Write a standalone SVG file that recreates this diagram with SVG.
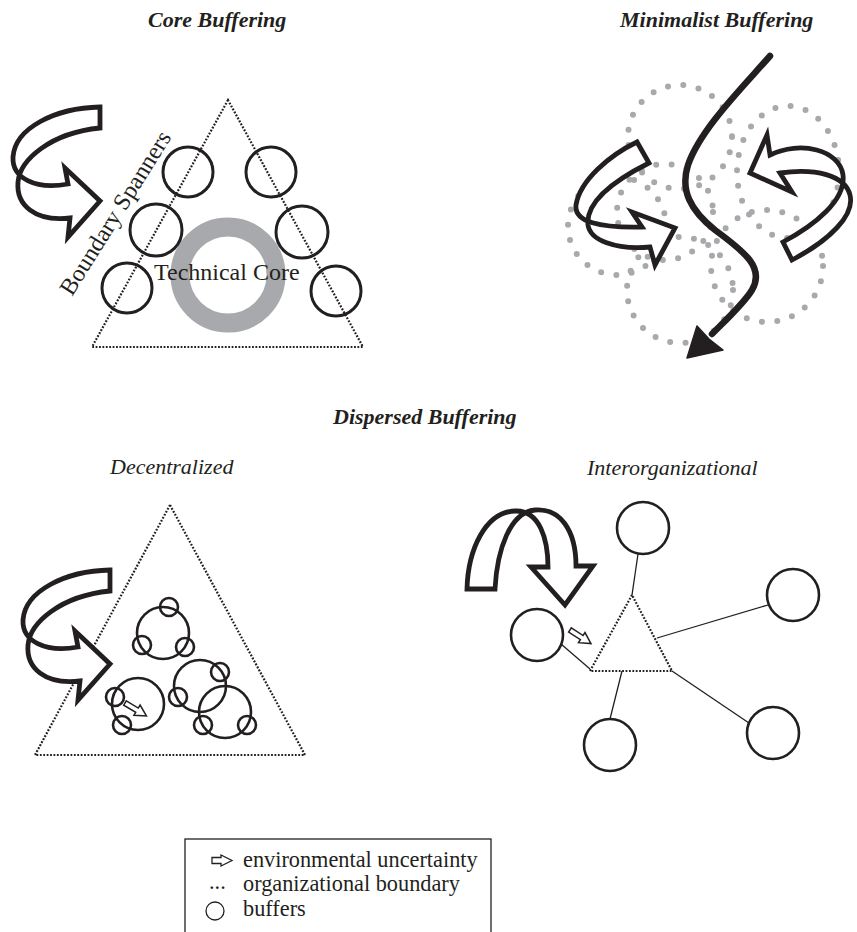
<svg xmlns="http://www.w3.org/2000/svg" width="857" height="932" viewBox="0 0 857 932">
<defs>
<style>
.t{font-family:"Liberation Serif","Times New Roman",serif;fill:#231f20}
.title{font-size:22px;font-weight:bold;font-style:italic}
.sub{font-size:22px;font-style:italic}
.lbl{font-size:24px}
.leg{font-size:22.3px}
.tri{fill:none;stroke:#231f20;stroke-width:2.2;stroke-dasharray:1.8 1.6}
.buf{fill:none;stroke:#231f20;stroke-width:3}
.bufs{fill:none;stroke:#231f20;stroke-width:2.6}
.big{fill:#fff;stroke:#231f20;stroke-width:4.8;stroke-linejoin:miter}
.dots{fill:none;stroke:#a7a9ac;stroke-width:6;stroke-linecap:round;stroke-dasharray:0 15.5}
.link{stroke:#231f20;stroke-width:1.3;fill:none}
.sm{fill:#fff;stroke:#231f20;stroke-width:1.5}
</style>
<path id="coreArrow" d="M100,107 C55,108 15,128 13,157 C12,178 35,190 68,184 L65,168 L100,201 L68,237 L70,218 C35,222 16,205 18,182 C20,160 50,133 100,128 Z"/>
<polygon id="smallArrow" points="0,-2.5 14,-2.5 14,-6 25,0 14,6 14,2.5 0,2.5"/>
</defs>
<rect width="857" height="932" fill="#fff"/>

<!-- Titles -->
<text class="t title" x="148" y="27">Core Buffering</text>
<text class="t title" x="620" y="27">Minimalist Buffering</text>
<text class="t title" x="333" y="424">Dispersed Buffering</text>
<text class="t sub" x="110" y="474">Decentralized</text>
<text class="t sub" x="587" y="475">Interorganizational</text>

<!-- Core Buffering -->
<g id="core-boundary"><polygon class="tri" points="228,100 92,347 363,347"/></g>
<g id="technical-core">
<circle cx="228" cy="275" r="48" fill="none" stroke="#a7a9ac" stroke-width="19"/>
<text class="t lbl" x="154" y="280">Technical Core</text>
</g>
<g id="core-buffer-1"><circle class="buf" cx="188" cy="172" r="25"/></g>
<g id="core-buffer-2"><circle class="buf" cx="271" cy="172" r="25"/></g>
<g id="core-buffer-3"><circle class="buf" cx="156" cy="230" r="26"/></g>
<g id="core-buffer-4"><circle class="buf" cx="302" cy="232" r="26"/></g>
<g id="core-buffer-5"><circle class="buf" cx="127" cy="288" r="25"/></g>
<g id="core-buffer-6"><circle class="buf" cx="336" cy="291" r="25"/></g>
<text class="t lbl" font-size="24.5" transform="translate(72,297) rotate(-58)">Boundary Spanners</text>
<g id="core-uncertainty"><use href="#coreArrow" class="big"/></g>

<!-- Minimalist Buffering -->
<g id="minimal-buffers">
<circle class="dots" cx="680" cy="137" r="52"/>
<ellipse class="dots" cx="788" cy="172" rx="51" ry="66"/>
<circle class="dots" cx="617" cy="226" r="49"/>
<circle class="dots" cx="665" cy="212" r="48"/>
<circle class="dots" cx="680" cy="290" r="53"/>
<circle class="dots" cx="767" cy="266" r="56"/>
</g>
<g id="minimal-flow">
<path d="M770,56 C740,90 700,130 688,165 C680,190 690,210 715,230 C745,252 765,268 752,290 C745,302 730,316 712,334" fill="none" stroke="#231f20" stroke-width="6.5" stroke-linecap="round"/>
<polygon points="687,358 697,326 709,339 723,350" fill="#231f20" stroke="#231f20" stroke-width="1.5" stroke-linejoin="round"/>
</g>
<g id="minimal-uncertainty-left"><path class="big" d="M637,142 C610,155 580,180 576,205 C574,222 600,228 642,227 L632,212 L675,228 L655,265 L650,247 C615,250 590,240 588,225 C586,205 605,185 649,163 Z"/></g>
<g id="minimal-uncertainty-right"><path class="big" d="M770,155 C800,140 840,150 843,175 C846,200 815,225 783,242 L792,260 C830,240 855,215 850,195 C845,175 815,168 780,173 L792,192 L750,173 L767,135 Z"/></g>

<!-- Decentralized -->
<g id="dec-boundary"><polygon class="tri" points="170,505 35,755 305,755"/></g>
<g id="dec-unit-1">
<circle class="bufs" cx="163" cy="633" r="26"/>
<circle class="bufs" cx="169" cy="607" r="9"/>
<circle class="bufs" cx="142" cy="645" r="9"/>
<circle class="bufs" cx="185" cy="647" r="9"/>
</g>
<g id="dec-unit-2">
<circle class="bufs" cx="138" cy="704" r="26"/>
<circle class="bufs" cx="115" cy="697" r="9"/>
<circle class="bufs" cx="122" cy="725" r="9"/>
<use href="#smallArrow" class="sm" transform="translate(125,703) rotate(31)"/>
</g>
<g id="dec-unit-3">
<circle class="bufs" cx="200" cy="686" r="26"/>
<circle class="bufs" cx="225" cy="712" r="26"/>
<circle class="bufs" cx="220" cy="672" r="9"/>
<circle class="bufs" cx="178" cy="697" r="9"/>
<circle class="bufs" cx="203" cy="725" r="9"/>
<circle class="bufs" cx="247" cy="725" r="9"/>
</g>
<g id="dec-uncertainty"><use href="#coreArrow" class="big" transform="translate(10,463)"/></g>

<!-- Interorganizational -->
<g id="inter-connectors">
<line class="link" x1="638" y1="554" x2="632" y2="595"/>
<line class="link" x1="768" y1="605" x2="657" y2="638"/>
<line class="link" x1="561" y1="644" x2="590" y2="669"/>
<line class="link" x1="610" y1="719" x2="622" y2="671"/>
<line class="link" x1="749" y1="723" x2="672" y2="671"/>
</g>
<g id="inter-org"><polygon class="tri" points="632,595 590,671 672,671"/></g>
<g id="inter-buffer-top"><circle class="bufs" cx="643" cy="528" r="26"/></g>
<g id="inter-buffer-right"><circle class="bufs" cx="793" cy="595" r="26"/></g>
<g id="inter-buffer-left"><circle class="bufs" cx="537" cy="635" r="26"/></g>
<g id="inter-buffer-bottom-left"><circle class="bufs" cx="610" cy="745" r="26"/></g>
<g id="inter-buffer-bottom-right"><circle class="bufs" cx="773" cy="733" r="26"/></g>
<g id="inter-small-arrow"><use href="#smallArrow" class="sm" transform="translate(570,630) rotate(33)"/></g>
<g id="inter-uncertainty"><path class="big" d="M467,589 C468,550 485,512 515,511 C540,510 548,540 548,567 L531,567 L565,605 L593,566 L576,566 C576,530 560,508 535,510 C510,512 497,550 495,589 Z"/></g>

<!-- Legend -->
<g id="legend">
<rect x="185" y="839" width="306" height="110" fill="none" stroke="#231f20" stroke-width="1.3"/>
<polygon points="212,857.5 221,857.5 221,855 232,860.5 221,866 221,863.5 212,863.5" fill="#fff" stroke="#231f20" stroke-width="1.3"/>
<text class="t leg" x="243" y="867">environmental uncertainty</text>
<text class="t leg" x="209" y="889">...</text>
<text class="t leg" x="243" y="891">organizational boundary</text>
<circle cx="215" cy="911" r="9" fill="none" stroke="#231f20" stroke-width="1.3"/>
<text class="t leg" x="243" y="916">buffers</text>
</g>
</svg>
